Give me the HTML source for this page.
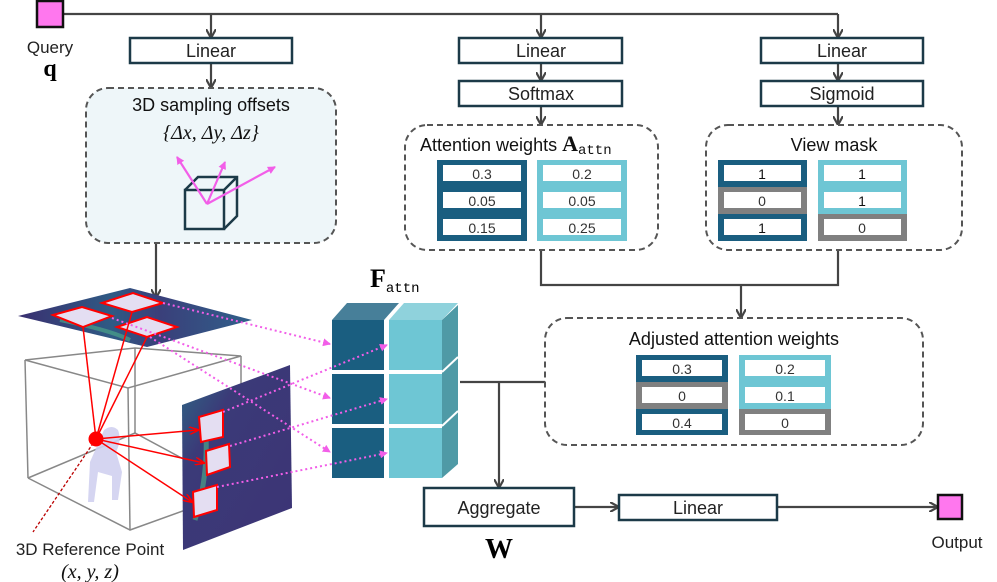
<!DOCTYPE html>
<html><head><meta charset="utf-8"><style>
html,body{margin:0;padding:0;background:#fff}
svg{display:block}
text{font-family:"Liberation Sans",sans-serif}
</style></head><body>
<svg width="997" height="582" viewBox="0 0 997 582" xmlns="http://www.w3.org/2000/svg">
<defs>
<marker id="ar" markerWidth="10" markerHeight="10" refX="8" refY="5" orient="auto" markerUnits="userSpaceOnUse"><path d="M0,0 L9,5 L0,10" fill="none" stroke="#444" stroke-width="2.2"/></marker>
<marker id="pk" markerWidth="8" markerHeight="8" refX="7" refY="4" orient="auto" markerUnits="userSpaceOnUse"><path d="M0,0 L8,4 L0,8 z" fill="#f25ee8"/></marker>
<marker id="rd" markerWidth="10" markerHeight="8" refX="9" refY="4" orient="auto" markerUnits="userSpaceOnUse"><path d="M0,0 L10,4 L0,8" fill="none" stroke="#f00" stroke-width="1.5"/></marker>
<linearGradient id="hm" x1="0" y1="0" x2="1" y2="0"><stop offset="0" stop-color="#3a2f70"/><stop offset="0.4" stop-color="#2f5a84"/><stop offset="0.6" stop-color="#3a3f7a"/><stop offset="1" stop-color="#30608a"/></linearGradient>
<linearGradient id="hm2" x1="0" y1="0" x2="1" y2="1"><stop offset="0" stop-color="#2d6a86"/><stop offset="0.3" stop-color="#3b3a78"/><stop offset="1" stop-color="#3c3475"/></linearGradient>
</defs>
<g stroke="#444" stroke-width="2.2" fill="none">
<line x1="63" y1="14" x2="838" y2="14"/>
<line x1="211" y1="14" x2="211" y2="37" marker-end="url(#ar)"/>
<line x1="541" y1="14" x2="541" y2="37" marker-end="url(#ar)"/>
<line x1="838" y1="14" x2="838" y2="37" marker-end="url(#ar)"/>
<line x1="211" y1="63" x2="211" y2="87" marker-end="url(#ar)"/>
<line x1="541" y1="63" x2="541" y2="80" marker-end="url(#ar)"/>
<line x1="838" y1="63" x2="838" y2="80" marker-end="url(#ar)"/>
<line x1="541" y1="106" x2="541" y2="124" marker-end="url(#ar)"/>
<line x1="838" y1="106" x2="838" y2="124" marker-end="url(#ar)"/>
<line x1="156" y1="243" x2="156" y2="297" marker-end="url(#ar)"/>
<polyline points="541,250 541,285 838,285 838,250"/>
<line x1="741" y1="285" x2="741" y2="317" marker-end="url(#ar)"/>
<line x1="460" y1="382" x2="545" y2="382"/>
<line x1="499" y1="382" x2="499" y2="487" marker-end="url(#ar)"/>
<line x1="574" y1="507" x2="618" y2="507" marker-end="url(#ar)"/>
<line x1="777" y1="507" x2="937" y2="507" marker-end="url(#ar)"/>
</g>
<rect x="37" y="1" width="26" height="26" fill="#ff77ee" stroke="#111" stroke-width="2.5"/>
<text x="50" y="53" font-size="17" text-anchor="middle" fill="#222">Query</text>
<text x="50" y="76" font-size="24" font-weight="bold" text-anchor="middle" style="font-family:'Liberation Serif',serif">q</text>
<g fill="#fff" stroke="#1c3a48" stroke-width="2.5">
<rect x="130" y="38" width="162" height="25"/>
<rect x="459" y="38" width="163" height="25"/>
<rect x="459" y="81" width="163" height="25"/>
<rect x="761" y="38" width="162" height="25"/>
<rect x="761" y="81" width="162" height="25"/>
<rect x="424" y="488" width="150" height="38"/>
<rect x="619" y="495" width="158" height="25"/>
</g>
<g font-size="18" text-anchor="middle" fill="#222">
<text x="211" y="57">Linear</text><text x="541" y="57">Linear</text><text x="541" y="100">Softmax</text>
<text x="842" y="57">Linear</text><text x="842" y="100">Sigmoid</text>
<text x="499" y="514">Aggregate</text><text x="698" y="514">Linear</text>
<text x="957" y="548" font-size="17">Output</text>
</g>
<text x="499" y="558" font-size="28" font-weight="bold" text-anchor="middle" style="font-family:'Liberation Serif',serif">W</text>
<rect x="938" y="495" width="24" height="24" fill="#ff77ee" stroke="#111" stroke-width="2.5"/>
<g stroke="#555" stroke-width="2" stroke-dasharray="6,4">
<rect x="86" y="88" width="250" height="155" rx="22" fill="#eef6f9"/>
<rect x="405" y="125" width="253" height="125" rx="22" fill="#fff"/>
<rect x="706" y="125" width="256" height="125" rx="22" fill="#fff"/>
<rect x="545" y="318" width="378" height="127" rx="22" fill="#fff"/>
</g>
<text x="211" y="111" font-size="18" text-anchor="middle" fill="#111">3D sampling offsets</text>
<text x="211" y="139" font-size="20" text-anchor="middle" fill="#111" style="font-family:'Liberation Serif',serif;font-style:italic">{Δx, Δy, Δz}</text>
<g stroke="#1c3a48" stroke-width="2.5" fill="none">
<rect x="185" y="190" width="39" height="39"/>
<polyline points="185,190 198,177 237,177 237,216 224,229"/><line x1="224" y1="190" x2="237" y2="177"/>
</g>
<g stroke="#f25ee8" stroke-width="2.2">
<line x1="207" y1="204" x2="177" y2="157" marker-end="url(#pk)"/>
<line x1="207" y1="204" x2="225" y2="162" marker-end="url(#pk)"/>
<line x1="207" y1="204" x2="275" y2="167" marker-end="url(#pk)"/>
</g>
<text x="420" y="151" font-size="18" fill="#111">Attention weights <tspan style="font-family:'Liberation Serif',serif" font-weight="bold" font-size="22">A</tspan><tspan style="font-family:'Liberation Mono',monospace" font-size="14" dy="3">attn</tspan></text>
<text x="834" y="151" font-size="18" text-anchor="middle" fill="#111">View mask</text>
<text x="734" y="345" font-size="18" text-anchor="middle" fill="#111">Adjusted attention weights</text>
<g font-size="14" text-anchor="middle" fill="#333">
<rect x="437" y="160" width="90" height="27" fill="#1a5e80"/><rect x="443" y="165" width="78" height="16" fill="#fff"/><text x="482" y="179">0.3</text>
<rect x="437" y="187" width="90" height="27" fill="#1a5e80"/><rect x="443" y="192" width="78" height="16" fill="#fff"/><text x="482" y="206">0.05</text>
<rect x="437" y="214" width="90" height="27" fill="#1a5e80"/><rect x="443" y="219" width="78" height="16" fill="#fff"/><text x="482" y="233">0.15</text>
<rect x="537" y="160" width="90" height="27" fill="#6ec6d4"/><rect x="543" y="165" width="78" height="16" fill="#fff"/><text x="582" y="179">0.2</text>
<rect x="537" y="187" width="90" height="27" fill="#6ec6d4"/><rect x="543" y="192" width="78" height="16" fill="#fff"/><text x="582" y="206">0.05</text>
<rect x="537" y="214" width="90" height="27" fill="#6ec6d4"/><rect x="543" y="219" width="78" height="16" fill="#fff"/><text x="582" y="233">0.25</text>
<rect x="718" y="160" width="89" height="27" fill="#1a5e80"/><rect x="724" y="165" width="77" height="16" fill="#fff"/><text x="762" y="179" fill="#111">1</text>
<rect x="718" y="187" width="89" height="27" fill="#808080"/><rect x="724" y="192" width="77" height="16" fill="#fff"/><text x="762" y="206">0</text>
<rect x="718" y="214" width="89" height="27" fill="#1a5e80"/><rect x="724" y="219" width="77" height="16" fill="#fff"/><text x="762" y="233" fill="#111">1</text>
<rect x="818" y="160" width="89" height="27" fill="#6ec6d4"/><rect x="824" y="165" width="77" height="16" fill="#fff"/><text x="862" y="179" fill="#111">1</text>
<rect x="818" y="187" width="89" height="27" fill="#6ec6d4"/><rect x="824" y="192" width="77" height="16" fill="#fff"/><text x="862" y="206" fill="#111">1</text>
<rect x="818" y="214" width="89" height="27" fill="#808080"/><rect x="824" y="219" width="77" height="16" fill="#fff"/><text x="862" y="233">0</text>
<rect x="636" y="355" width="92" height="27" fill="#1a5e80"/><rect x="642" y="360" width="80" height="16" fill="#fff"/><text x="682" y="374">0.3</text>
<rect x="636" y="382" width="92" height="27" fill="#808080"/><rect x="642" y="387" width="80" height="16" fill="#fff"/><text x="682" y="401">0</text>
<rect x="636" y="409" width="92" height="26" fill="#1a5e80"/><rect x="642" y="414" width="80" height="16" fill="#fff"/><text x="682" y="428">0.4</text>
<rect x="739" y="355" width="92" height="27" fill="#6ec6d4"/><rect x="745" y="360" width="80" height="16" fill="#fff"/><text x="785" y="374">0.2</text>
<rect x="739" y="382" width="92" height="27" fill="#6ec6d4"/><rect x="745" y="387" width="80" height="16" fill="#fff"/><text x="785" y="401">0.1</text>
<rect x="739" y="409" width="92" height="26" fill="#808080"/><rect x="745" y="414" width="80" height="16" fill="#fff"/><text x="785" y="428">0</text>
</g>
<text x="370" y="287" font-size="26" font-weight="bold" style="font-family:'Liberation Serif',serif">F<tspan style="font-family:'Liberation Mono',monospace" font-size="14" font-weight="normal" dy="5">attn</tspan></text>
<polygon points="332,320 347,303 399,303 384,320" fill="#477f99"/>
<polygon points="389,320 404,303 458,303 442,320" fill="#8fd2dc"/>
<polygon points="442,320 458,305 458,464 442,478" fill="#4f9aa6"/>
<g stroke="#fff" stroke-width="2">
<line x1="442" y1="372" x2="458" y2="357"/><line x1="442" y1="426" x2="458" y2="411"/>
</g>
<rect x="332" y="320" width="52" height="50" fill="#1a5e80"/><rect x="332" y="374" width="52" height="50" fill="#1a5e80"/><rect x="332" y="428" width="52" height="50" fill="#1a5e80"/>
<rect x="389" y="320" width="53" height="50" fill="#6ec6d4"/><rect x="389" y="374" width="53" height="50" fill="#6ec6d4"/><rect x="389" y="428" width="53" height="50" fill="#6ec6d4"/>
<g stroke="#888" stroke-width="1.5" fill="none">
<polyline points="25,360 135,348 241,356 128,388 25,360"/>
<line x1="25" y1="360" x2="28" y2="478"/><line x1="128" y1="388" x2="130" y2="530"/>
<line x1="241" y1="356" x2="241" y2="490"/><line x1="135" y1="348" x2="135" y2="433"/>
<polyline points="28,478 130,530 241,490"/><polyline points="28,478 135,433 241,490"/>
</g>
<polygon points="18,316 130,288 252,320 147,347" fill="url(#hm)"/>
<path d="M60,320 Q110,330 130,340" stroke="#4fb08a" stroke-width="4" fill="none" opacity=".6"/>
<polygon points="182,405 290,365 292,508 183,550" fill="url(#hm2)"/>
<path d="M205,420 Q210,470 195,520" stroke="#50b58a" stroke-width="5" fill="none" opacity=".6"/>
<g fill="#e4def2" stroke="#f00" stroke-width="2">
<polygon points="53,315 82,307 112,316 83,327"/>
<polygon points="102,303 133,293 163,303 132,312"/>
<polygon points="117,327 147,317 177,327 147,337"/>
<polygon points="199,417 223,410 223,437 201,442"/>
<polygon points="206,451 229,444 230,467 207,475"/>
<polygon points="193,492 217,485 217,510 194,517"/>
</g>
<g stroke="#f25ee8" stroke-width="2" stroke-dasharray="2,3" fill="none">
<line x1="163" y1="303" x2="330" y2="344" marker-end="url(#pk)"/>
<line x1="112" y1="318" x2="330" y2="398" marker-end="url(#pk)"/>
<line x1="150" y1="337" x2="330" y2="452" marker-end="url(#pk)"/>
<line x1="223" y1="412" x2="387" y2="345" marker-end="url(#pk)"/>
<line x1="230" y1="446" x2="387" y2="399" marker-end="url(#pk)"/>
<line x1="217" y1="487" x2="387" y2="453" marker-end="url(#pk)"/>
</g>
<path d="M104,430 q8,-6 14,0 q4,10 -2,22 l6,20 l-4,28 l-6,0 l0,-24 l-14,-4 l-4,30 l-6,0 l2,-40 z" fill="#d0d0ef" opacity=".9"/>
<g stroke="#f00" stroke-width="1.5">
<line x1="96" y1="439" x2="83" y2="327"/><line x1="96" y1="439" x2="132" y2="312"/><line x1="96" y1="439" x2="147" y2="337"/>
<line x1="96" y1="439" x2="198" y2="430" marker-end="url(#rd)"/>
<line x1="96" y1="439" x2="204" y2="463" marker-end="url(#rd)"/>
<line x1="96" y1="439" x2="192" y2="502" marker-end="url(#rd)"/>
</g>
<line x1="96" y1="439" x2="33" y2="532" stroke="#b00" stroke-width="1.3" stroke-dasharray="3,2"/>
<circle cx="96" cy="439" r="7.5" fill="#f00"/>
<text x="90" y="555" font-size="17" text-anchor="middle" fill="#222">3D Reference Point</text>
<text x="90" y="578" font-size="20" text-anchor="middle" fill="#111" style="font-family:'Liberation Serif',serif;font-style:italic">(x, y, z)</text>
</svg>
</body></html>
